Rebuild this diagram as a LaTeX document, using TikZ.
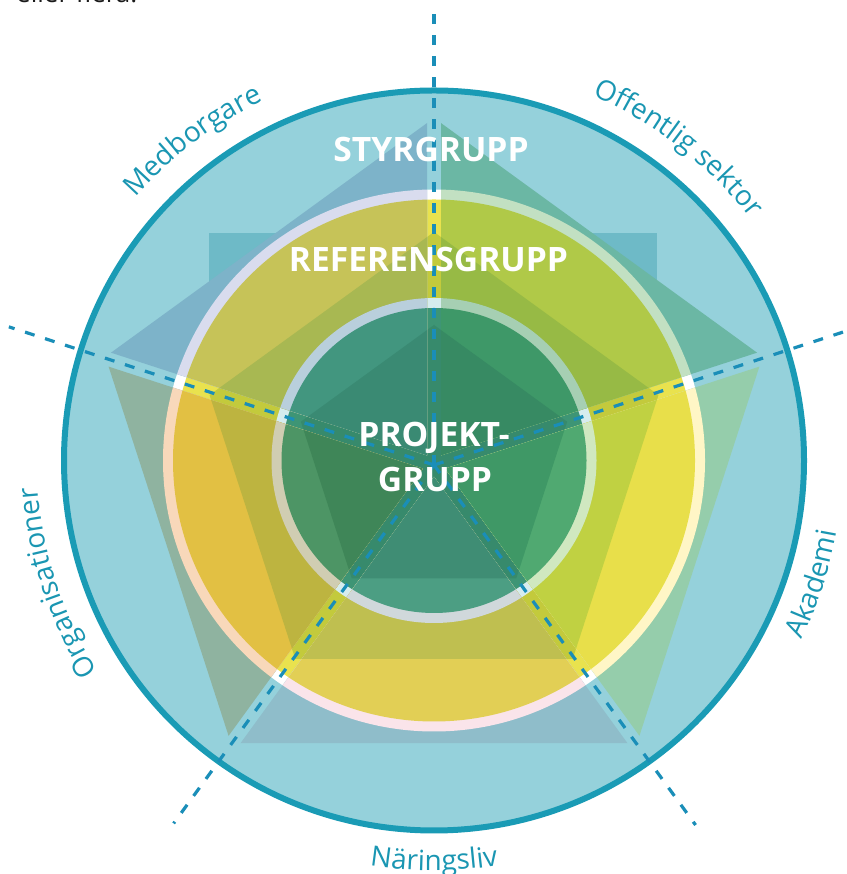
\documentclass[tikz,border=0pt]{standalone}
\usepackage{fontspec}
\setmainfont{Open Sans}
\usetikzlibrary{decorations.text}

\definecolor{cyanbg}{HTML}{95D1DB}
\definecolor{rimcol}{HTML}{1A9BB5}
\definecolor{labcol}{HTML}{1A96B2}
\definecolor{dashcol}{HTML}{1A8EB8}
\definecolor{housecol}{HTML}{6EBAC7}
\definecolor{stripyel}{HTML}{E9E24E}
\definecolor{striplime}{HTML}{C3CA3C}
\definecolor{stripring}{HTML}{D6ECEE}
\definecolor{stripdisk}{HTML}{3E9575}
\definecolor{stripin}{HTML}{378A6C}
\definecolor{toptext}{HTML}{1A1A1A}
% Medborgare
\definecolor{mBig}{HTML}{7DB3C9}
\definecolor{mRingA}{HTML}{D9DCEE}
\definecolor{mAnn}{HTML}{C6C358}
\definecolor{mAnnT}{HTML}{A8B852}
\definecolor{mRingB}{HTML}{B9CFDC}
\definecolor{mDisk}{HTML}{42967F}
\definecolor{mDiskT}{HTML}{3A8A73}
% Offentlig sektor
\definecolor{oBig}{HTML}{6BB7A4}
\definecolor{oRingA}{HTML}{C2E0C2}
\definecolor{oAnn}{HTML}{B0C948}
\definecolor{oAnnT}{HTML}{97BA45}
\definecolor{oRingB}{HTML}{A6CFB3}
\definecolor{oDisk}{HTML}{3E9868}
\definecolor{oDiskT}{HTML}{378A63}
% Akademi
\definecolor{aBig}{HTML}{95CDAB}
\definecolor{aRingA}{HTML}{FFF6C6}
\definecolor{aAnn}{HTML}{E8DF4A}
\definecolor{aAnnT}{HTML}{C0D142}
\definecolor{aRingB}{HTML}{D0E8C0}
\definecolor{aDisk}{HTML}{50A971}
\definecolor{aDiskT}{HTML}{3F9866}
% Naringsliv
\definecolor{nBig}{HTML}{8FBDCA}
\definecolor{nRingA}{HTML}{FAE4EA}
\definecolor{nAnn}{HTML}{E2CF55}
\definecolor{nAnnT}{HTML}{BFBF50}
\definecolor{nRingB}{HTML}{D0D8DB}
\definecolor{nDisk}{HTML}{4C9E83}
\definecolor{nDiskT}{HTML}{3F8D74}
% Organisationer
\definecolor{gBig}{HTML}{8FB3A0}
\definecolor{gRingA}{HTML}{F8D8BA}
\definecolor{gAnn}{HTML}{E2C043}
\definecolor{gAnnT}{HTML}{BDB440}
\definecolor{gRingB}{HTML}{D0CDB2}
\definecolor{gDisk}{HTML}{4D9565}
\definecolor{gDiskT}{HTML}{3F8658}

\newcommand\labfont{\fontsize{28}{32}\selectfont}
\newcommand\topfont{\fontsize{26}{30}\selectfont}
\newcommand\grpfont{\fontsize{33.6}{40}\selectfont\bfseries}

\newcommand\drawsector[8]{%
  \begin{scope}
    \clip[shift={(434,409)},shift={(#1:11.9)}] (0,0) -- (#1-36:720) -- (#1+36:720) -- cycle;
    \fill[#2,shift={(434,410.5)}] (90:345.5) -- (162:345.5) -- (234:345.5) -- (306:345.5) -- (18:345.5) -- cycle;
    \fill[#3] (434,413.5) circle[radius=271];
    \fill[#4] (434,413.5) circle[radius=261];
    \fill[#5,shift={(434,406)}] (90:236) -- (162:236) -- (234:236) -- (306:236) -- (18:236) -- cycle;
    \fill[#6] (434,413.5) circle[radius=162.5];
    \fill[#7] (434,413.5) circle[radius=152.5];
    \fill[#8,shift={(434,409)}] (90:140) -- (162:140) -- (234:140) -- (306:140) -- (18:140) -- cycle;
  \end{scope}}

\begin{document}
\begin{tikzpicture}[x=1pt,y=1pt,
  dashline/.style={draw=dashcol, line width=3.2pt, dash pattern=on 10pt off 11pt},
  grouptitle/.style={text=white, font=\grpfont, inner sep=0pt, anchor=base},
  lab/.style={decorate, decoration={text along path, text align=center, text color=labcol, text={|\labfont|#1}}}]
\useasboundingbox (0,0) rectangle (846,874);
\begin{scope}
\clip (0,0) rectangle (846,874);
% partially visible text at the top edge
\node[anchor=base west, inner sep=0pt, text=toptext, font=\topfont] (toptxt) at (16,871) {eller flera.};

% background disc and house block
\fill[cyanbg] (434,413.5) circle[radius=370];
\fill[housecol] (209,641) rectangle (657,411);

% layers visible in the gaps along the dashed lines
\fill[white] (434,413.5) circle[radius=271];
\fill[stripyel] (434,413.5) circle[radius=261];
\fill[striplime,shift={(434,406)}] (90:236) -- (162:236) -- (234:236) -- (306:236) -- (18:236) -- cycle;
\fill[stripring] (434,413.5) circle[radius=162.5];
\fill[stripdisk] (434,413.5) circle[radius=152.5];
\fill[stripin,shift={(434,409)}] (90:140) -- (162:140) -- (234:140) -- (306:140) -- (18:140) -- cycle;

% five sectors
\drawsector{126}{mBig}{mRingA}{mAnn}{mAnnT}{mRingB}{mDisk}{mDiskT}
\drawsector{54}{oBig}{oRingA}{oAnn}{oAnnT}{oRingB}{oDisk}{oDiskT}
\drawsector{-18}{aBig}{aRingA}{aAnn}{aAnnT}{aRingB}{aDisk}{aDiskT}
\drawsector{270}{nBig}{nRingA}{nAnn}{nAnnT}{nRingB}{nDisk}{nDiskT}
\drawsector{198}{gBig}{gRingA}{gAnn}{gAnnT}{gRingB}{gDisk}{gDiskT}

% rim
\draw[rimcol, line width=6pt] (434,413.5) circle[radius=370];

% dashed spokes
\coordinate (D) at (434,409);
\coordinate (e90) at ([shift={(434,409)}]90:453);
\coordinate (e162) at ([shift={(434,409)}]162:447);
\coordinate (e234) at ([shift={(434,409)}]234:443);
\coordinate (e306) at ([shift={(434,409)}]306:445);
\coordinate (e18) at ([shift={(434,409)}]18:450);
\draw[dashline] (D) -- (e90);
\draw[dashline] (D) -- (e162);
\draw[dashline] (D) -- (e234);
\draw[dashline] (D) -- (e306);
\draw[dashline] (D) -- (e18);

% group titles
\node[grouptitle] (sty) at (431,712) {STYRGRUPP};
\node[grouptitle] (ref) at (428.5,602) {REFERENSGRUPP};
\node[grouptitle] (proja) at (434,427) {PROJEKT-};
\node[grouptitle] (projb) at (435,382) {GRUPP};

% stakeholder labels along the rim
\path[shift={(434,413.5)}, lab=Medborgare] (167:398) arc[start angle=167, end angle=87, radius=398];
\path[shift={(434,413.5)}, lab=Offentlig sektor] (92:398) arc[start angle=92, end angle=12, radius=398];
\path[shift={(434,413.5)}, lab=Organisationer] (238:397) arc[start angle=238, end angle=158, radius=397];
\path[shift={(434,413.5)}, lab=Akademi] (-58:409) arc[start angle=-58, end angle=22, radius=409];
\path[shift={(434,413.5)}, lab=Näringsliv] (230:410) arc[start angle=230, end angle=310, radius=410];
\end{scope}
\end{tikzpicture}
\end{document}
